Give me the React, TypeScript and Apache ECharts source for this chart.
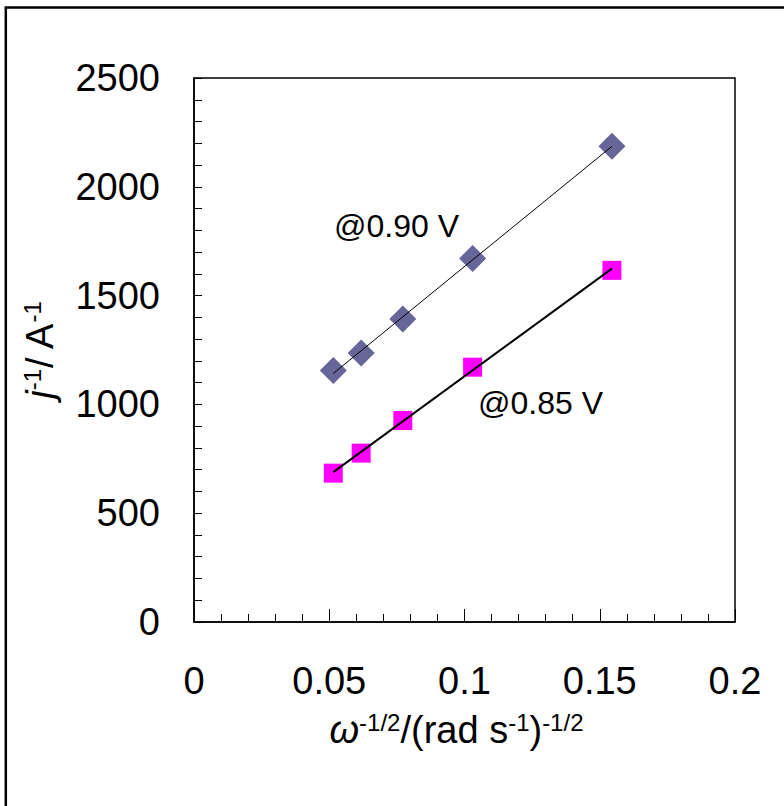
import React, { useEffect, useRef } from "react";
import * as echarts from "echarts";

const xValues = [0.0515, 0.0618, 0.0772, 0.103, 0.1545];
const j090 = [1156, 1236, 1392, 1671, 2186];
const j085 = [684, 776, 926, 1171, 1616];
const xTickValues = [0, 0.05, 0.1, 0.15, 0.2];
const yTickValues = [0, 500, 1000, 1500, 2000, 2500];
const label090 = "@0.90 V";
const label085 = "@0.85 V";

const FONT = "'Liberation Sans', Arial, Helvetica, sans-serif";

function fitLine(xs: number[], ys: number[]) {
  const n = xs.length;
  const mx = xs.reduce((a, b) => a + b, 0) / n;
  const my = ys.reduce((a, b) => a + b, 0) / n;
  let sxy = 0;
  let sxx = 0;
  for (let i = 0; i < n; i++) {
    sxy += (xs[i] - mx) * (ys[i] - my);
    sxx += (xs[i] - mx) * (xs[i] - mx);
  }
  const b = sxy / sxx;
  const a = my - b * mx;
  const x0 = Math.min(...xs);
  const x1 = Math.max(...xs);
  return [
    [x0, a + b * x0],
    [x1, a + b * x1],
  ];
}

export default function App() {
  const ref = useRef<HTMLDivElement>(null);
  useEffect(() => {
    if (!ref.current) return;
    const chart = echarts.init(ref.current, undefined, { renderer: "svg" });
    const supStyle = { fontSize: 24, fontFamily: FONT, color: "#000", verticalAlign: "top", lineHeight: 40 };
    chart.setOption({
      animation: false,
      backgroundColor: "#fff",
      grid: {
        left: 194,
        top: 78,
        right: 49,
        bottom: 184,
        show: true,
        borderColor: "#000",
        borderWidth: 1.5,
        containLabel: false,
      },
      xAxis: {
        type: "value",
        min: xTickValues[0],
        max: xTickValues[xTickValues.length - 1],
        interval: 0.05,
        axisLine: { show: true, onZero: false, lineStyle: { color: "#000", width: 1.5 } },
        axisTick: { show: true, inside: true, length: 13, lineStyle: { color: "#000", width: 1 } },
        minorTick: { show: true, splitNumber: 5, length: 8, lineStyle: { color: "#000", width: 1 } },
        splitLine: { show: false },
        axisLabel: {
          show: true,
          fontSize: 38,
          fontFamily: FONT,
          color: "#000",
          margin: 40,
          formatter: (v: number) => String(v),
        },
        name: "{w|ω}{sup|-1/2}{n|/(rad s}{sup|-1}{n|)}{sup|-1/2}",
        nameLocation: "middle",
        nameGap: 88,
        nameTextStyle: {
          padding: [0, 16, 0, 0],
          rich: {
            w: { fontSize: 38, fontFamily: FONT, fontStyle: "italic", color: "#000", lineHeight: 40 },
            n: { fontSize: 38, fontFamily: FONT, color: "#000", lineHeight: 40 },
            sup: supStyle,
          },
        },
      },
      yAxis: {
        type: "value",
        min: yTickValues[0],
        max: yTickValues[yTickValues.length - 1],
        interval: 500,
        axisLine: { show: true, onZero: false, lineStyle: { color: "#000", width: 1.5 } },
        axisTick: { show: true, inside: true, length: 8, lineStyle: { color: "#000", width: 1 } },
        minorTick: { show: true, splitNumber: 5, length: 8, lineStyle: { color: "#000", width: 1 } },
        splitLine: { show: false },
        axisLabel: {
          show: true,
          fontSize: 38,
          fontFamily: FONT,
          color: "#000",
          margin: 34,
          formatter: (v: number) => String(v),
        },
        name: "{j|j}{sup|-1}{n|/ A}{sup|-1}",
        nameLocation: "middle",
        nameGap: 134,
        nameRotate: 90,
        nameTextStyle: {
          rich: {
            j: { fontSize: 38, fontFamily: FONT, fontStyle: "italic", color: "#000", lineHeight: 40 },
            n: { fontSize: 38, fontFamily: FONT, color: "#000", lineHeight: 40 },
            sup: supStyle,
          },
        },
      },
      series: [
        {
          name: "0.90 V",
          type: "scatter",
          symbol: "diamond",
          symbolSize: 27,
          itemStyle: { color: "#666699", opacity: 1 },
          data: xValues.map((x, i) => [x, j090[i]]),
          z: 2,
        },
        {
          name: "0.85 V",
          type: "scatter",
          symbol: "rect",
          symbolSize: 19,
          itemStyle: { color: "#ff00ff", opacity: 1 },
          data: xValues.map((x, i) => [x, j085[i]]),
          z: 2,
        },
        {
          name: "fit 0.90 V",
          type: "line",
          showSymbol: false,
          symbol: "none",
          lineStyle: { color: "#000", width: 1 },
          data: fitLine(xValues, j090),
          z: 3,
        },
        {
          name: "fit 0.85 V",
          type: "line",
          showSymbol: false,
          symbol: "none",
          lineStyle: { color: "#000", width: 2 },
          data: fitLine(xValues, j085),
          z: 3,
        },
      ],
      graphic: [
        {
          type: "rect",
          shape: { x: 5.8, y: 7.5, width: 900, height: 900 },
          style: { fill: "none", stroke: "#000", lineWidth: 2.5 },
          silent: true,
        },
        {
          type: "text",
          x: 334,
          y: 226,
          style: {
            text: label090,
            fontSize: 32,
            fontFamily: FONT,
            fill: "#000",
            verticalAlign: "middle",
            align: "left",
          },
        },
        {
          type: "text",
          x: 478,
          y: 403,
          style: {
            text: label085,
            fontSize: 32,
            fontFamily: FONT,
            fill: "#000",
            verticalAlign: "middle",
            align: "left",
          },
        },
      ],
    });
    return () => chart.dispose();
  }, []);
  return (
    <div
      ref={ref}
      style={{ position: "absolute", left: 0, top: 0, width: 784, height: 806, background: "#fff" }}
    />
  );
}
